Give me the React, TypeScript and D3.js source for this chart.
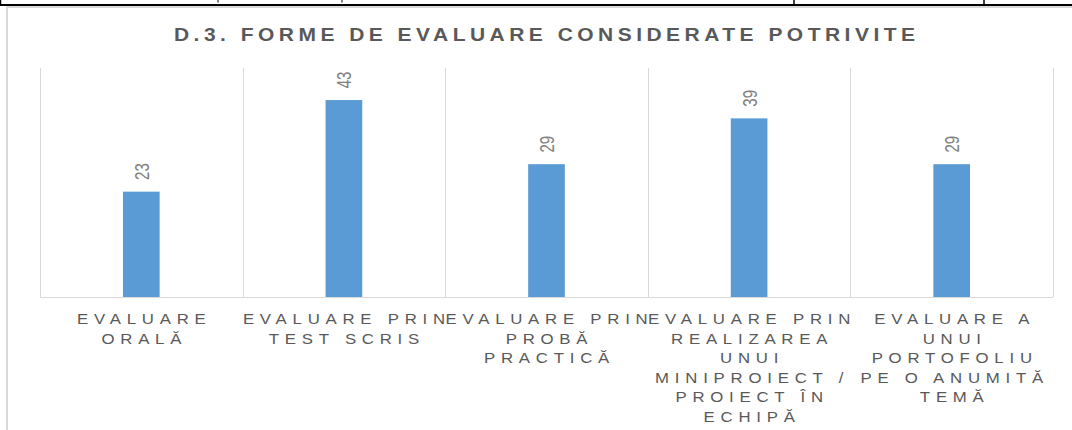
import React from "react";
import * as d3 from "d3";

const title = "D.3. FORME DE EVALUARE CONSIDERATE POTRIVITE";
const categories = [
  "Evaluare orală",
  "Evaluare prin test scris",
  "Evaluare prin probă practică",
  "Evaluare prin realizarea unui miniproiect / proiect în echipă",
  "Evaluare a unui portofoliu pe o anumită temă",
];
const categoryLines = [
  ["EVALUARE", "ORALĂ"],
  ["EVALUARE PRIN", "TEST SCRIS"],
  ["EVALUARE PRIN", "PROBĂ", "PRACTICĂ"],
  ["EVALUARE PRIN", "REALIZAREA", "UNUI", "MINIPROIECT /", "PROIECT ÎN", "ECHIPĂ"],
  ["EVALUARE A", "UNUI", "PORTOFOLIU", "PE O ANUMITĂ", "TEMĂ"],
];
const values = [23, 43, 29, 39, 29];
const yDomain = [0, 50];

const W = 1072;
const H = 430;
const plot = { left: 40, right: 1053, top: 68, bottom: 297 };

export default function App() {
  const x = d3.scaleBand<string>().domain(categories).range([plot.left, plot.right]).paddingInner(0).paddingOuter(0);
  const y = d3.scaleLinear().domain(yDomain).range([plot.bottom, plot.top]);
  const bw = x.bandwidth() * 0.181;
  const boundaries = categories.map((c) => x(c) as number).concat([plot.right]);
  const font = "'Liberation Sans', Arial, sans-serif";
  const sx = 1.2;

  return (
    <svg width={W} height={H} style={{ position: "absolute", left: 0, top: 0, background: "#fff" }} fontFamily={font}>
      {/* chart frame */}
      <rect x={7} y={7} width={1080} height={440} fill="#fff" stroke="#d9d9d9" strokeWidth={2} />
      {/* table borders above */}
      <line x1={0} x2={W} y1={5} y2={5} stroke="#000" strokeWidth={2} />
      <line x1={0.5} x2={0.5} y1={0} y2={5} stroke="#000" strokeWidth={1.5} />
      <line x1={794} x2={794} y1={0} y2={5} stroke="#000" strokeWidth={1.5} />
      <line x1={984} x2={984} y1={0} y2={5} stroke="#000" strokeWidth={1.5} />
      <line x1={218} x2={218} y1={0} y2={2.5} stroke="#000" strokeWidth={1} />
      <line x1={342} x2={342} y1={0} y2={2.5} stroke="#000" strokeWidth={1} />

      {/* title */}
      <text transform={`translate(174,41) scale(${sx},1)`} fontSize={17.5} fontWeight="bold" fill="#595959" textLength={741 / sx} lengthAdjust="spacing">
        {title}
      </text>

      {/* gridlines (category separators) */}
      {boundaries.map((bx, i) => (
        <line key={"g" + i} x1={Math.round(bx) + 0.5} x2={Math.round(bx) + 0.5} y1={plot.top} y2={plot.bottom} stroke="#d9d9d9" strokeWidth={1} />
      ))}
      <line x1={plot.left} x2={plot.right} y1={plot.bottom + 0.5} y2={plot.bottom + 0.5} stroke="#d9d9d9" strokeWidth={1} />

      {/* bars */}
      {categories.map((c, i) => {
        const cx = (x(c) as number) + x.bandwidth() / 2;
        return (
          <rect key={"b" + i} x={cx - bw / 2} y={y(values[i])} width={bw} height={plot.bottom - y(values[i])} fill="#5b9bd5" />
        );
      })}

      {/* value labels */}
      {categories.map((c, i) => {
        const cx = (x(c) as number) + x.bandwidth() / 2;
        const ty = y(values[i]) - 11.7;
        return (
          <text key={"v" + i} transform={`translate(${cx},${ty}) rotate(-90) scale(1,1.4)`} fontSize={15} fill="#7f7f7f" dominantBaseline="central" textAnchor="start">
            {values[i]}
          </text>
        );
      })}

      {/* category labels */}
      {categories.map((c, i) => {
        const cx = (x(c) as number) + x.bandwidth() / 2;
        return (
          <g key={"c" + i}>
            {categoryLines[i].map((ln, j) => (
              <text key={j} transform={`translate(${cx + 3},${324 + j * 19.5}) scale(${sx},1)`} fontSize={14} fill="#595959" textAnchor="middle" letterSpacing={4.8}>
                {ln}
              </text>
            ))}
          </g>
        );
      })}
    </svg>
  );
}
